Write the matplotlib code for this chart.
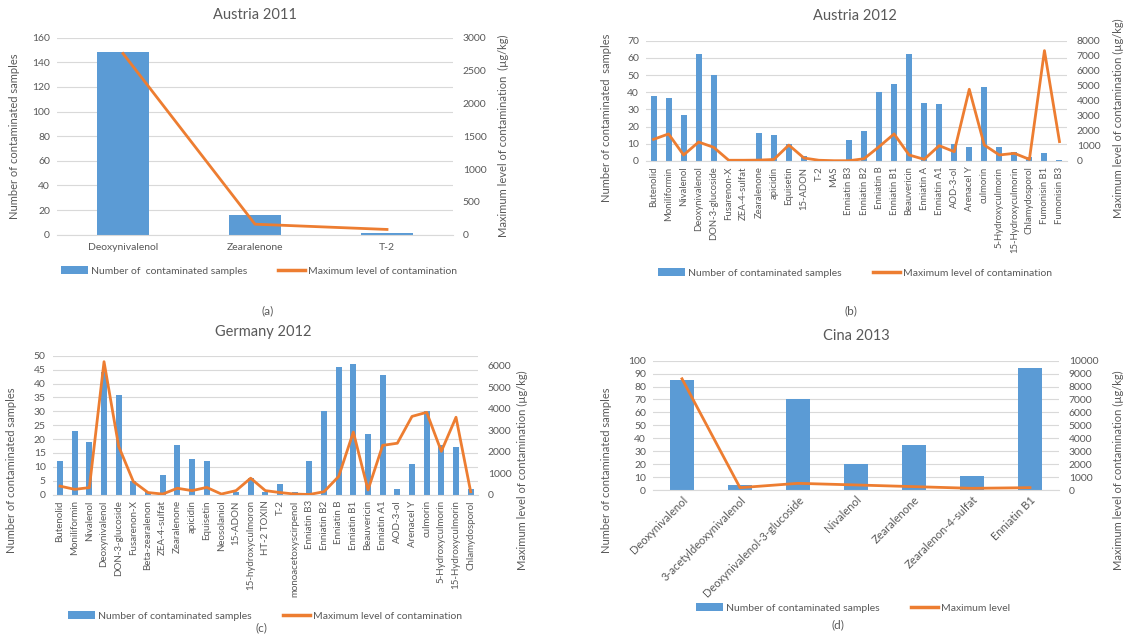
import matplotlib
matplotlib.use("Agg")
import matplotlib.pyplot as plt
import numpy as np
from matplotlib.lines import Line2D
from matplotlib.patches import Patch

plt.rcParams["font.family"] = ["Lato", "DejaVu Sans"]

# ---------------- data ----------------
austria11_cats = ["Deoxynivalenol", "Zearalenone", "T-2"]
austria11_counts = [148, 16, 1]
austria11_max = [2760, 160, 80]

austria12_cats = ["Butenolid", "Moniliformin", "Nivalenol", "Deoxynivalenol",
                  "DON-3-glucoside", "Fusarenon-X", "ZEA-4-sulfat", "Zearalenone",
                  "apicidin", "Equisetin", "15-ADON", "T-2", "MAS", "Enniatin B3",
                  "Enniatin B2", "Enniatin B", "Enniatin B1", "Beauvericin",
                  "Enniatin A", "Enniatin A1", "AOD-3-ol", "Arenacel Y", "culmorin",
                  "5-Hydroxyculmorin", "15-Hydroxyculmorin", "Chlamydosporol",
                  "Fumonisin B1", "Fumonisin B3"]
austria12_counts = [38, 36.5, 27, 62, 50, 0, 0, 16.5, 15, 10, 3, 0, 0, 12,
                    17.5, 40, 45, 62, 34, 33, 10, 8, 43, 8, 5.5, 2.5, 4.5, 0.6]
austria12_max = [1440, 1800, 400, 1260, 910, 50, 50, 60, 100, 1060, 200, 50, 20, 20,
                 150, 950, 1800, 400, 110, 1020, 620, 4770, 1060, 400, 510, 110,
                 7340, 1290]

germany12_cats = ["Butenolid", "Moniliformin", "Nivalenol", "Deoxynivalenol",
                  "DON-3-glucoside", "Fusarenon-X", "Beta-zearalenon", "ZEA-4-sulfat",
                  "Zearalenone", "apicidin", "Equisetin", "Neosolaniol", "15-ADON",
                  "15-hydroxyculmoron", "HT-2 TOXIN", "T-2", "monoacetoxyscirpenol",
                  "Enniatin B3", "Enniatin B2", "Enniatin B", "Enniatin B1",
                  "Beauvericin", "Enniatin A1", "AOD-3-ol", "Arenacel Y", "culmorin",
                  "5-Hydroxyculmorin", "15-Hydroxyculmorin", "Chlamydosporol"]
germany12_counts = [12, 23, 19, 44, 36, 5, 1, 7, 18, 13, 12, 0, 1, 6, 1, 4, 1,
                    12, 30, 46, 47, 22, 43, 2, 11, 30, 18, 17, 2]
germany12_max = [400, 250, 330, 6200, 2250, 610, 100, 30, 300, 190, 340, 30, 190,
                 770, 190, 100, 30, 10, 140, 850, 2920, 220, 2300, 2400, 3650,
                 3840, 2020, 3610, 140]

cina13_cats = ["Deoxynivalenol", "3-acetyldeoxynivalenol",
               "Deoxynivalenol-3-glucoside", "Nivalenol", "Zearalenone",
               "Zearalenon-4-sulfat", "Enniatin B1"]
cina13_counts = [85, 4, 70, 20, 35, 11, 94]
cina13_max = [8600, 180, 515, 390, 260, 130, 180]

# ---------------- style ----------------
BAR = "#5B9BD5"
LINE = "#ED7D31"
TXT = "#595959"
GRID = "#D9D9D9"

W, H = 1130, 635
fig = plt.figure(figsize=(W / 100, H / 100), dpi=100)


def box(left, right, top, bottom):
    return [left / W, 1 - bottom / H, (right - left) / W, (bottom - top) / H]


def panel(rect, cats, counts, levels, lmax, lticks, rmax, rticks,
          rot=0, xfs=7.5, xpad=4):
    ax = fig.add_axes(rect)
    x = np.arange(len(cats))
    ax.bar(x, counts, width=0.4, color=BAR, zorder=2)
    ax.set_xlim(-0.5, len(cats) - 0.5)
    ax.set_ylim(0, lmax)
    ax.set_yticks(lticks)
    ax.grid(axis="y", color=GRID, lw=0.8)
    ax.set_axisbelow(True)
    for s in ("top", "right", "left"):
        ax.spines[s].set_visible(False)
    ax.spines["bottom"].set_color(GRID)
    ax.tick_params(axis="both", length=0, colors=TXT, labelsize=7.5)
    ax.tick_params(axis="y", pad=5)
    ax.set_xticks(x)
    if rot == 90:
        ax.set_xticklabels(cats, rotation=90, ha="center", va="top", fontsize=xfs)
    elif rot == 45:
        ax.set_xticklabels(cats, rotation=45, ha="right", va="top",
                           rotation_mode="anchor", fontsize=xfs)
    else:
        ax.set_xticklabels(cats, fontsize=xfs)
    ax.tick_params(axis="x", pad=xpad)

    ax2 = ax.twinx()
    ax2.plot(x, levels, color=LINE, lw=2, solid_joinstyle="round", zorder=3)
    ax2.set_ylim(0, rmax)
    ax2.set_yticks(rticks)
    for s in ax2.spines.values():
        s.set_visible(False)
    ax2.tick_params(axis="y", length=0, colors=TXT, labelsize=7.5, pad=7)
    return ax, ax2


def legend(cx, cy, bar_label, line_label):
    handles = [Patch(facecolor=BAR, edgecolor="none"),
               Line2D([], [], color=LINE, lw=2.5)]
    fig.legend(handles, [bar_label, line_label], loc="center",
               bbox_to_anchor=(cx / W, 1 - cy / H), ncol=2, frameon=False,
               fontsize=7.5, labelcolor=TXT, handlelength=2.6, handleheight=0.7,
               handletextpad=0.3, columnspacing=3.0)


def label(x, y, s, size=8, rot=0):
    fig.text(x / W, 1 - y / H, s, ha="center", va="center", rotation=rot,
             fontsize=size, color=TXT)


# (a) Austria 2011
panel(box(57, 453, 37.7, 234.7), austria11_cats, austria11_counts, austria11_max,
      160, np.arange(0, 161, 20), 3000, np.arange(0, 3001, 500), xfs=7.5, xpad=6)
label(255, 15, "Austria 2011", 10.5)
label(15, 136, "Number of contaminated samples", 8, 90)
label(503, 136, "Maximum level of contamination  (µg/kg)", 8, 90)
legend(259, 271, "Number of  contaminated samples", "Maximum level of contamination")
label(268, 311, "(a)", 8.5)

# (b) Austria 2012
panel(box(646, 1067, 40.7, 161), austria12_cats, austria12_counts, austria12_max,
      70, np.arange(0, 71, 10), 8000, np.arange(0, 8001, 1000), rot=90, xfs=6.8)
label(855, 16, "Austria 2012", 10.5)
label(607, 118, "Number of contaminated  samples", 8, 90)
label(1118, 118, "Maximum level of contamination (µg/kg)", 8, 90)
legend(855, 273, "Number of contaminated samples", "Maximum level of contamination")
label(851, 311, "(b)", 8.5)

# (c) Germany 2012
panel(box(52.7, 478, 355.7, 494.7), germany12_cats, germany12_counts, germany12_max,
      50, np.arange(0, 51, 5), 6480, np.arange(0, 6001, 1000), rot=90, xfs=7)
label(263, 332, "Germany 2012", 10.5)
label(12, 470, "Number of contaminated samples", 8, 90)
label(522, 470, "Maximum level of contamination (µg/kg)", 8, 90)
legend(265, 616, "Number of contaminated samples", "Maximum level of contamination")
label(261, 628, "(c)", 8.5)

# (d) Cina 2013
panel(box(653, 1059, 360.7, 490), cina13_cats, cina13_counts, cina13_max,
      100, np.arange(0, 101, 10), 10000, np.arange(0, 10001, 1000), rot=45,
      xfs=8, xpad=3)
label(856, 336, "Cina 2013", 10.5)
label(607, 470, "Number of contaminated samples", 8, 90)
label(1118, 470, "Maximum level of contamination (µg/kg)", 8, 90)
legend(853, 608, "Number of contaminated samples", "Maximum level")
label(838, 625, "(d)", 8.5)

fig.savefig("out.png", dpi=100, facecolor="white")
